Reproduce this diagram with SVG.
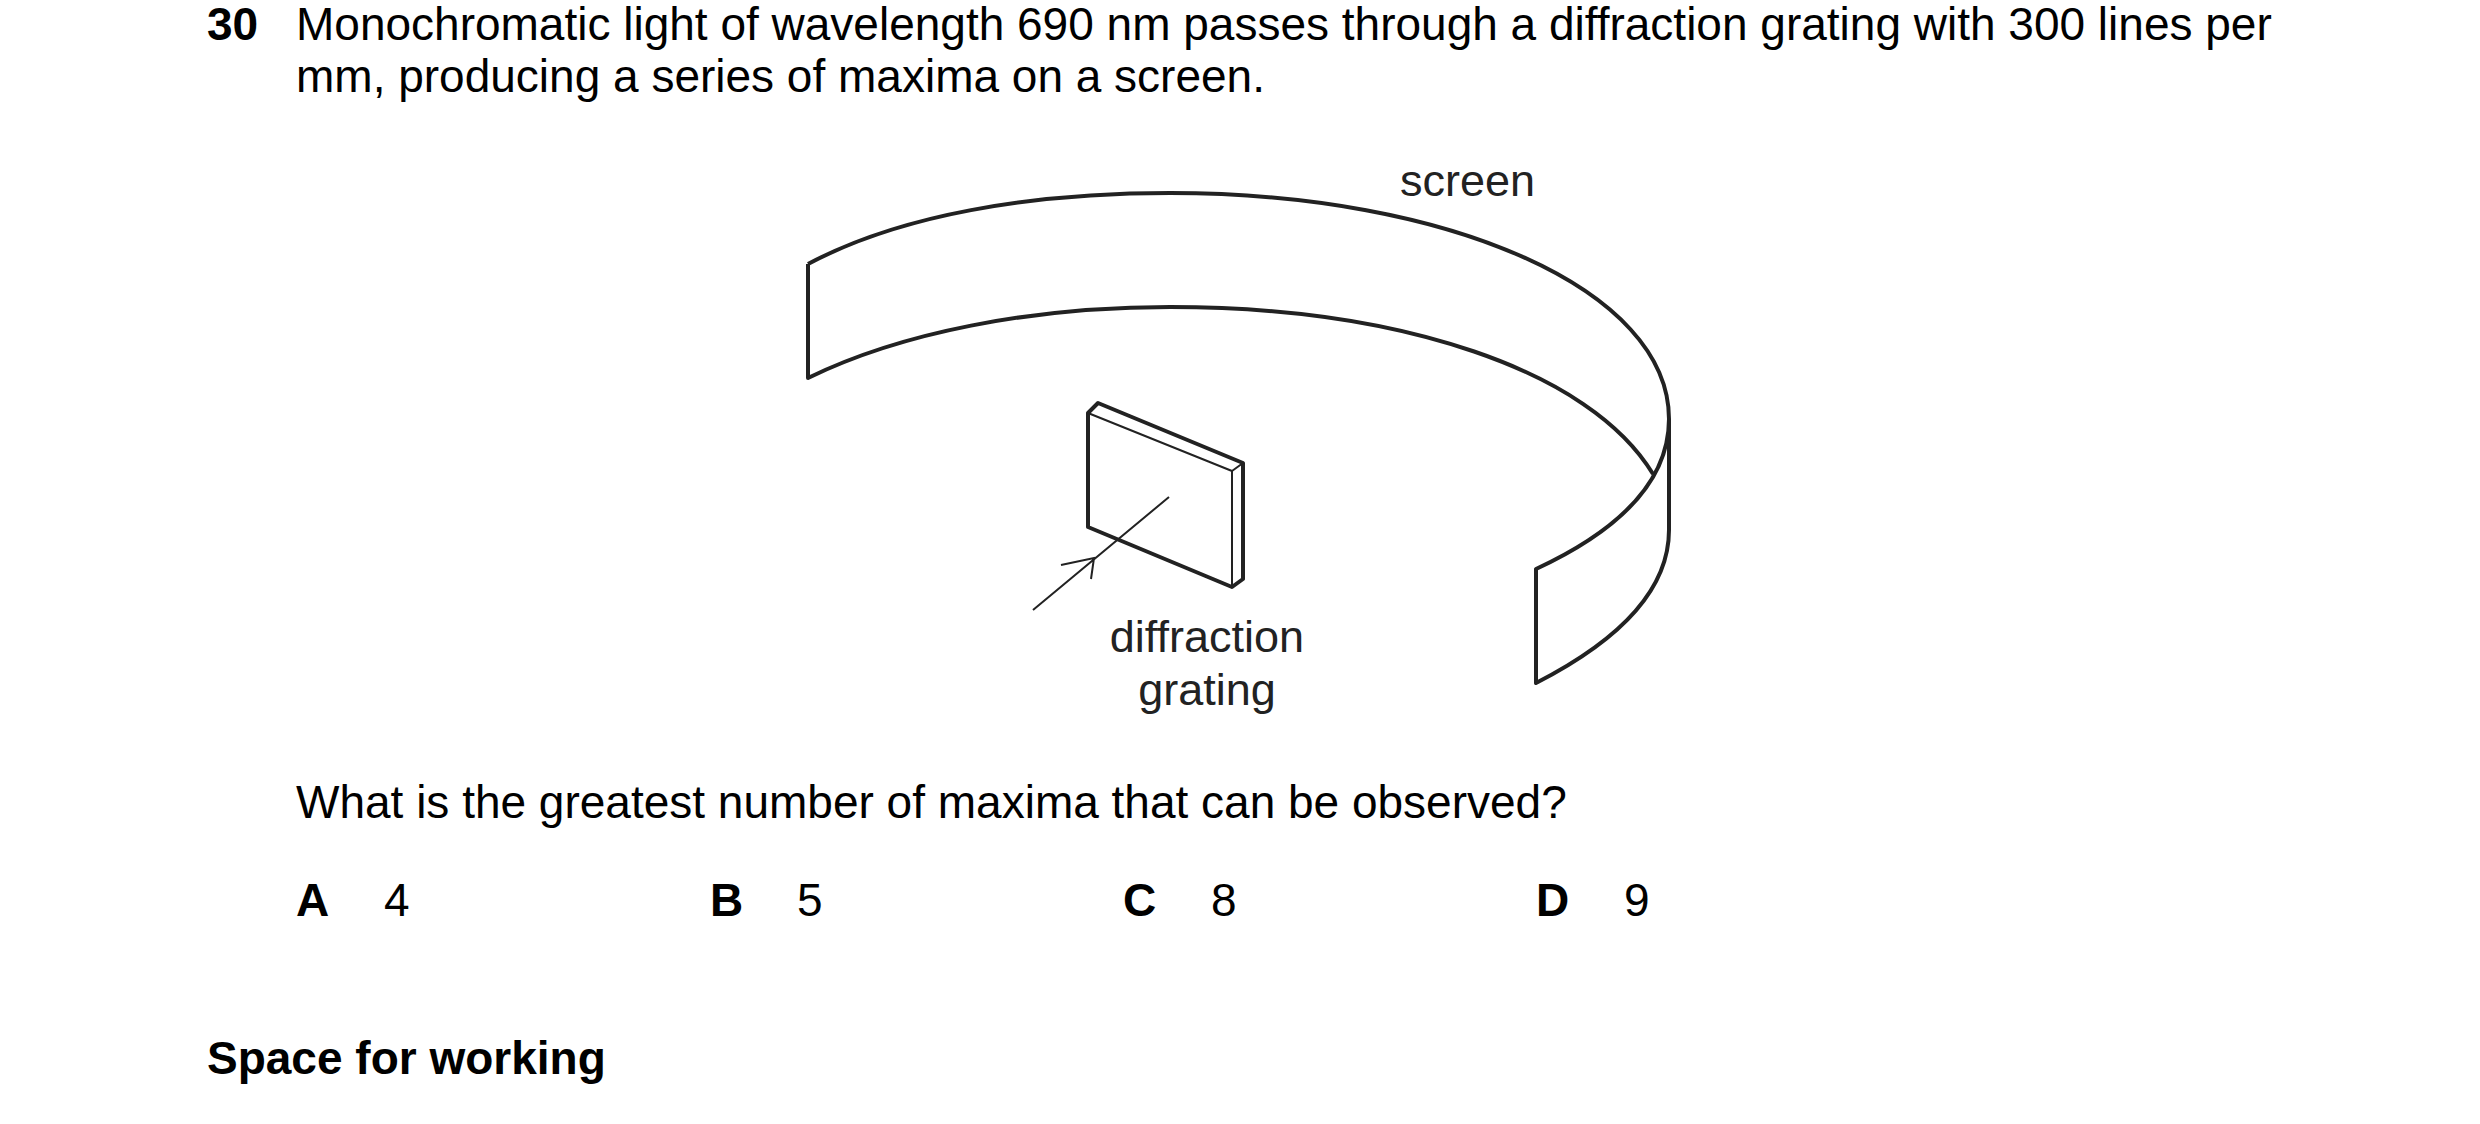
<svg xmlns="http://www.w3.org/2000/svg" width="2480" height="1124" viewBox="0 0 2480 1124">
<style>
text{font-family:"Liberation Sans",Arial,sans-serif;font-size:46px;fill:#000}
.b{font-weight:bold}
.lab{font-size:45px;fill:#222}
.s{fill:none;stroke:#222;stroke-width:4;stroke-linejoin:round}
.t{fill:none;stroke:#222;stroke-width:2}
</style>
<rect width="2480" height="1124" fill="#fff"/>
<g id="question">
<text x="207" y="40" class="b">30</text>
<text x="296" y="40">Monochromatic light of wavelength 690 nm passes through a diffraction grating with 300 lines per</text>
<text x="296" y="92">mm, producing a series of maxima on a screen.</text>
</g>
<g id="screen">
<path class="s" d="M808,264 C900,215 1030,193 1170,193 C1450,193 1669,290 1669,419 L1669,530 C1669,590 1620,640 1536,683 L1536,569 C1620,530 1669,480 1669,419"/>
<path class="s" d="M808,264 L808,378 C900,333 1030,307 1170,307 C1400,307 1590,370 1653,474"/>
<text x="1400" y="196" class="lab">screen</text>
</g>
<g id="grating">
<path class="s" d="M1088,413 L1098,403 L1243,463 L1243,579 L1232,587 L1088,527 Z"/>
<path class="t" d="M1088,413 L1232,471 L1232,587 M1232,471 L1243,463"/>
<text x="1207" y="652" class="lab" text-anchor="middle">diffraction</text>
<text x="1207" y="705" class="lab" text-anchor="middle">grating</text>
</g>
<g id="connectors">
<path class="t" d="M1033,610 L1169,497 M1061,565 L1094,558 L1091,579"/>
</g>
<g id="answers">
<text x="296" y="818">What is the greatest number of maxima that can be observed?</text>
<text x="296" y="916" class="b">A</text><text x="384" y="916">4</text>
<text x="710" y="916" class="b">B</text><text x="797" y="916">5</text>
<text x="1123" y="916" class="b">C</text><text x="1211" y="916">8</text>
<text x="1536" y="916" class="b">D</text><text x="1624" y="916">9</text>
<text x="207" y="1074" class="b">Space for working</text>
</g>
</svg>
